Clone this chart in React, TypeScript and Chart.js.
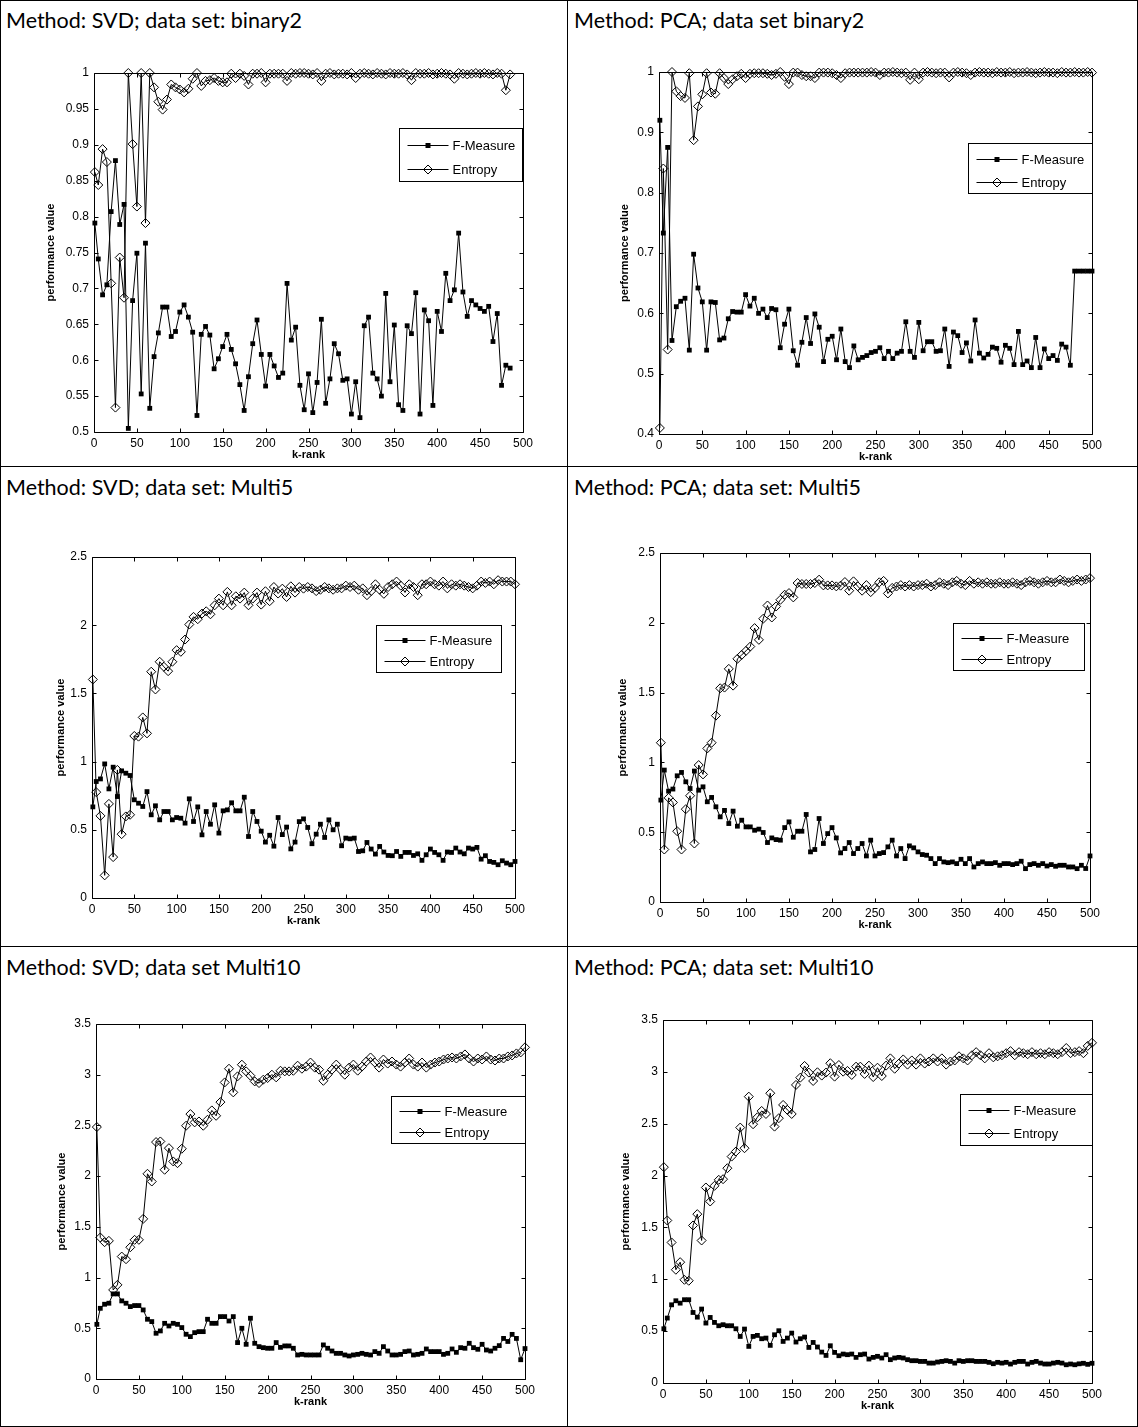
import React, { useEffect, useRef } from "react";
import { Chart, registerables } from "chart.js";

Chart.register(...registerables);

// k-rank values at which every run was evaluated
const kRank = [
  1, 5, 10, 15, 20, 25, 30, 35, 40, 45, 50, 55, 60, 65, 70, 75, 80, 85, 90, 95,
  100, 105, 110, 115, 120, 125, 130, 135, 140, 145, 150, 155, 160, 165, 170, 175, 180, 185, 190, 195,
  200, 205, 210, 215, 220, 225, 230, 235, 240, 245, 250, 255, 260, 265, 270, 275, 280, 285, 290, 295,
  300, 305, 310, 315, 320, 325, 330, 335, 340, 345, 350, 355, 360, 365, 370, 375, 380, 385, 390, 395,
  400, 405, 410, 415, 420, 425, 430, 435, 440, 445, 450, 455, 460, 465, 470, 475, 480, 485, 490, 495,
  500,
];

const xTicks = [0, 50, 100, 150, 200, 250, 300, 350, 400, 450, 500];

// ---- SVD, binary2 (runs stop at k = 485) ----
const svdBinary2FMeasure = [
  0.791, 0.741, 0.691, 0.705, 0.807, 0.878, 0.789, 0.817, 0.505, 0.683,
  0.749, 0.553, 0.763, 0.533, 0.605, 0.638, 0.674, 0.674, 0.633, 0.64,
  0.667, 0.677, 0.66, 0.639, 0.523, 0.636, 0.647, 0.635, 0.588, 0.602,
  0.619, 0.636, 0.615, 0.595, 0.566, 0.53, 0.577, 0.623, 0.656, 0.608,
  0.564, 0.608, 0.592, 0.576, 0.582, 0.707, 0.628, 0.646, 0.565, 0.531,
  0.581, 0.527, 0.569, 0.657, 0.54, 0.574, 0.623, 0.609, 0.572, 0.574,
  0.525, 0.57, 0.52, 0.648, 0.66, 0.582, 0.574, 0.55, 0.693, 0.57,
  0.649, 0.538, 0.53, 0.648, 0.637, 0.694, 0.525, 0.67, 0.655, 0.537,
  0.668, 0.64, 0.721, 0.683, 0.698, 0.777, 0.695, 0.661, 0.683, 0.677,
  0.672, 0.668, 0.675, 0.626, 0.665, 0.565, 0.593, 0.589,
];
const svdBinary2Entropy = [
  0.862, 0.844, 0.894, 0.876, 0.707, 0.534, 0.743, 0.687, 1.0, 0.901,
  0.814, 1.0, 0.791, 1.0, 0.98, 0.96, 0.949, 0.963, 0.984, 0.98,
  0.977, 0.973, 0.978, 0.992, 1.0, 0.982, 0.989, 0.99, 0.993, 0.989,
  0.987, 0.987, 0.999, 0.993, 0.999, 0.996, 0.984, 0.999, 0.999, 1.0,
  0.987, 0.999, 0.999, 0.999, 0.999, 0.989, 1.0, 0.999, 1.0, 1.0,
  0.999, 0.998, 1.0, 0.989, 0.999, 1.0, 0.998, 0.999, 0.999, 0.998,
  1.0, 0.993, 0.999, 1.0, 0.999, 0.998, 1.0, 0.999, 0.998, 1.0,
  0.999, 0.999, 1.0, 0.998, 0.99, 1.0, 0.999, 0.999, 1.0, 0.998,
  0.999, 1.0, 0.999, 0.998, 0.992, 1.0, 0.999, 0.998, 0.999, 1.0,
  0.999, 1.0, 0.999, 0.998, 1.0, 0.999, 0.976, 0.998,
];

// ---- PCA, binary2 ----
const pcaBinary2FMeasure = [
  0.92, 0.733, 0.875, 0.555, 0.611, 0.62, 0.625, 0.539, 0.698, 0.642,
  0.619, 0.539, 0.619, 0.618, 0.556, 0.559, 0.591, 0.603, 0.602, 0.602,
  0.631, 0.612, 0.625, 0.6, 0.607, 0.593, 0.608, 0.606, 0.543, 0.582,
  0.607, 0.538, 0.514, 0.552, 0.593, 0.55, 0.599, 0.577, 0.52, 0.557,
  0.562, 0.523, 0.574, 0.52, 0.51, 0.546, 0.523, 0.527, 0.53, 0.535,
  0.537, 0.543, 0.525, 0.537, 0.525, 0.534, 0.537, 0.586, 0.537, 0.527,
  0.585, 0.538, 0.553, 0.553, 0.537, 0.538, 0.574, 0.512, 0.569, 0.563,
  0.535, 0.551, 0.521, 0.589, 0.534, 0.526, 0.532, 0.544, 0.542, 0.519,
  0.547, 0.542, 0.515, 0.57, 0.515, 0.521, 0.51, 0.56, 0.51, 0.541,
  0.525, 0.53, 0.522, 0.549, 0.544, 0.514, 0.67, 0.67, 0.67, 0.67,
  0.67,
];
const pcaBinary2Entropy = [
  0.41, 0.84, 0.54, 1.0, 0.968, 0.96, 0.957, 0.998, 0.887, 0.943,
  0.963, 0.998, 0.966, 0.964, 0.998, 0.99, 0.98, 0.988, 0.993, 0.997,
  0.99, 0.997, 0.998, 0.998, 0.998, 0.997, 0.995, 0.997, 1.0, 0.992,
  0.98, 0.999, 0.999, 0.995, 0.993, 0.993, 0.99, 0.999, 0.999, 0.999,
  0.998, 0.995, 0.99, 0.998, 0.999, 0.999, 0.999, 0.999, 0.999, 1.0,
  0.999, 0.995, 0.999, 0.999, 1.0, 0.999, 0.998, 0.999, 0.987, 0.999,
  0.988, 0.999, 1.0, 0.999, 0.998, 0.999, 0.999, 0.991, 0.999, 1.0,
  0.999, 0.998, 0.995, 0.999, 1.0, 0.999, 0.999, 0.998, 1.0, 0.999,
  0.999, 1.0, 0.998, 0.999, 0.999, 1.0, 0.999, 0.998, 0.999, 1.0,
  0.999, 0.999, 0.998, 1.0, 0.999, 0.999, 1.0, 0.999, 0.999, 1.0,
  0.999,
];

// ---- SVD, Multi5 ----
const svdMulti5FMeasure = [
  0.668, 0.854, 0.873, 0.983, 0.8, 0.959, 0.744, 0.932, 0.915, 0.898,
  0.72, 0.695, 0.671, 0.78, 0.61, 0.676, 0.573, 0.634, 0.634, 0.573,
  0.59, 0.585, 0.549, 0.727, 0.561, 0.668, 0.463, 0.634, 0.541, 0.683,
  0.476, 0.639, 0.646, 0.698, 0.639, 0.639, 0.739, 0.451, 0.634, 0.561,
  0.49, 0.41, 0.46, 0.38, 0.59, 0.465, 0.52, 0.36, 0.41, 0.56,
  0.58, 0.517, 0.398, 0.468, 0.541, 0.444, 0.573, 0.5, 0.541, 0.383,
  0.439, 0.434, 0.439, 0.341, 0.346, 0.407, 0.359, 0.322, 0.378, 0.337,
  0.312, 0.31, 0.341, 0.305, 0.334, 0.334, 0.312, 0.324, 0.276, 0.317,
  0.359, 0.334, 0.317, 0.276, 0.337, 0.334, 0.366, 0.337, 0.324, 0.366,
  0.359, 0.371, 0.285, 0.31, 0.268, 0.261, 0.244, 0.273, 0.256, 0.244,
  0.268,
];
const svdMulti5Entropy = [
  1.602, 0.776, 0.602, 0.166, 0.69, 0.3, 0.939, 0.468, 0.598, 0.61,
  1.188, 1.183, 1.324, 1.207, 1.659, 1.529, 1.732, 1.695, 1.663, 1.732,
  1.817, 1.805, 1.895, 2.005, 2.061, 2.044, 2.085, 2.102, 2.08, 2.146,
  2.195, 2.146, 2.244, 2.146, 2.212, 2.195, 2.239, 2.146, 2.195, 2.239,
  2.151, 2.249, 2.176, 2.28, 2.232, 2.268, 2.207, 2.285, 2.239, 2.28,
  2.268, 2.28, 2.27, 2.25, 2.26, 2.28, 2.27, 2.26, 2.27, 2.27,
  2.29, 2.28, 2.29, 2.26, 2.27, 2.22, 2.25, 2.3, 2.26, 2.23,
  2.28, 2.3, 2.32, 2.29, 2.24, 2.3, 2.28, 2.22, 2.3, 2.3,
  2.32, 2.3, 2.29, 2.32, 2.27, 2.3, 2.29, 2.3, 2.29, 2.28,
  2.27, 2.29, 2.32, 2.31, 2.32, 2.3, 2.33, 2.32, 2.32, 2.32,
  2.3,
];

// ---- PCA, Multi5 ----
const pcaMulti5FMeasure = [
  0.73, 0.945, 0.794, 0.809, 0.904, 0.928, 0.861, 0.813, 0.938, 0.801,
  0.825, 0.718, 0.749, 0.682, 0.61, 0.656, 0.562, 0.651, 0.543, 0.586,
  0.538, 0.538, 0.514, 0.522, 0.498, 0.426, 0.459, 0.447, 0.443, 0.533,
  0.574, 0.464, 0.507, 0.507, 0.627, 0.359, 0.376, 0.598, 0.419, 0.49,
  0.533, 0.459, 0.352, 0.383, 0.426, 0.347, 0.383, 0.419, 0.33, 0.443,
  0.33, 0.347, 0.354, 0.395, 0.443, 0.33, 0.383, 0.311, 0.402, 0.388,
  0.359, 0.34, 0.335, 0.311, 0.275, 0.311, 0.287, 0.282, 0.287, 0.275,
  0.306, 0.275, 0.311, 0.251, 0.275, 0.287, 0.275, 0.275, 0.282, 0.263,
  0.275, 0.275, 0.268, 0.275, 0.292, 0.239, 0.268, 0.275, 0.263, 0.275,
  0.258, 0.268, 0.256, 0.263, 0.263, 0.251, 0.251, 0.239, 0.263, 0.24,
  0.33,
];
const pcaMulti5Entropy = [
  1.141, 0.376, 0.746, 0.713, 0.507, 0.376, 0.665, 0.761, 0.419, 0.981,
  0.914, 1.1, 1.141, 1.335, 1.531, 1.536, 1.67, 1.55, 1.742, 1.77,
  1.799, 1.83, 1.962, 1.878, 2.029, 2.124, 2.038, 2.117, 2.165, 2.201,
  2.213, 2.182, 2.285, 2.278, 2.278, 2.278, 2.285, 2.309, 2.268, 2.268,
  2.268, 2.261, 2.266, 2.292, 2.23, 2.297, 2.261, 2.23, 2.27, 2.22,
  2.25, 2.29, 2.3, 2.21, 2.25, 2.26, 2.27, 2.26, 2.27, 2.26,
  2.27, 2.27, 2.28, 2.26, 2.27, 2.29, 2.28, 2.27, 2.29, 2.3,
  2.28, 2.27, 2.3, 2.28, 2.29, 2.28, 2.29, 2.28, 2.28, 2.29,
  2.28, 2.28, 2.29, 2.28, 2.27, 2.29, 2.3, 2.29, 2.28, 2.29,
  2.3, 2.29, 2.29, 2.31, 2.3, 2.29, 2.3, 2.31, 2.3, 2.31,
  2.32,
];

// ---- SVD, Multi10 ----
const svdMulti10FMeasure = [
  0.539, 0.697, 0.737, 0.747, 0.839, 0.839, 0.77, 0.747, 0.714, 0.724,
  0.724, 0.681, 0.589, 0.566, 0.451, 0.474, 0.549, 0.523, 0.549, 0.539,
  0.507, 0.441, 0.418, 0.457, 0.467, 0.467, 0.589, 0.549, 0.549, 0.615,
  0.615, 0.572, 0.615, 0.359, 0.5, 0.342, 0.599, 0.352, 0.319, 0.309,
  0.303, 0.303, 0.359, 0.312, 0.326, 0.326, 0.303, 0.237, 0.243, 0.237,
  0.237, 0.237, 0.237, 0.336, 0.303, 0.276, 0.253, 0.253, 0.237, 0.227,
  0.237, 0.243, 0.253, 0.243, 0.237, 0.27, 0.253, 0.319, 0.276, 0.237,
  0.237, 0.243, 0.27, 0.276, 0.237, 0.243, 0.253, 0.296, 0.27, 0.27,
  0.27, 0.243, 0.253, 0.296, 0.263, 0.309, 0.303, 0.352, 0.309, 0.293,
  0.342, 0.286, 0.276, 0.303, 0.329, 0.4, 0.37, 0.44, 0.4, 0.19,
  0.3,
];
const svdMulti10Entropy = [
  2.484, 1.395, 1.349, 1.362, 0.878, 0.928, 1.207, 1.181, 1.299, 1.372,
  1.372, 1.579, 2.023, 1.947, 2.336, 2.342, 2.063, 2.276, 2.145, 2.128,
  2.27, 2.497, 2.612, 2.53, 2.539, 2.497, 2.556, 2.648, 2.595, 2.73,
  2.924, 3.059, 2.826, 2.984, 3.099, 3.033, 2.99, 2.934, 2.918, 2.951,
  2.967, 3.0, 2.974, 3.039, 3.033, 3.033, 3.039, 3.089, 3.059, 3.08,
  3.12, 3.07, 3.05, 2.94, 3.0, 3.05, 3.1, 3.05, 3.0, 3.07,
  3.1, 3.04, 3.08, 3.13, 3.17, 3.12, 3.07, 3.15, 3.11, 3.13,
  3.1, 3.08, 3.12, 3.16, 3.1, 3.08, 3.12, 3.07, 3.1, 3.12,
  3.13, 3.15, 3.16, 3.17, 3.16, 3.18, 3.2, 3.16, 3.13, 3.16,
  3.15, 3.18, 3.15, 3.14, 3.16, 3.16, 3.18, 3.19, 3.21, 3.22,
  3.27,
];

// ---- PCA, Multi10 ----
const pcaMulti10FMeasure = [
  0.523, 0.626, 0.754, 0.793, 0.77, 0.803, 0.803, 0.68, 0.635, 0.713,
  0.578, 0.632, 0.584, 0.552, 0.562, 0.552, 0.552, 0.523, 0.449, 0.52,
  0.353, 0.449, 0.459, 0.427, 0.433, 0.363, 0.465, 0.504, 0.401, 0.433,
  0.481, 0.395, 0.427, 0.443, 0.343, 0.391, 0.347, 0.298, 0.266, 0.359,
  0.295, 0.263, 0.279, 0.273, 0.279, 0.247, 0.273, 0.279, 0.231, 0.247,
  0.257, 0.241, 0.273, 0.225, 0.241, 0.247, 0.241, 0.225, 0.215, 0.215,
  0.208, 0.208, 0.192, 0.192, 0.202, 0.208, 0.215, 0.208, 0.192, 0.215,
  0.208, 0.215, 0.215, 0.208, 0.208, 0.208, 0.199, 0.186, 0.199, 0.192,
  0.199, 0.183, 0.199, 0.208, 0.208, 0.183, 0.199, 0.208, 0.192, 0.183,
  0.183, 0.192, 0.199, 0.192, 0.176, 0.183, 0.176, 0.185, 0.19, 0.18,
  0.19,
];
const pcaMulti10Entropy = [
  2.081, 1.567, 1.355, 1.092, 1.165, 0.995, 0.986, 1.519, 1.628, 1.374,
  1.885, 1.75, 1.901, 1.959, 1.965, 2.071, 2.183, 2.232, 2.463, 2.264,
  2.761, 2.495, 2.562, 2.623, 2.594, 2.794, 2.472, 2.553, 2.681, 2.633,
  2.594, 2.874, 2.944, 3.057, 2.993, 2.912, 2.996, 2.964, 2.993, 3.083,
  2.954, 3.066, 3.002, 3.009, 2.97, 3.05, 3.05, 2.98, 3.06, 2.95,
  3.04, 2.96, 3.06, 3.13, 3.03, 3.08, 3.12, 3.07, 3.11, 3.07,
  3.13, 3.08, 3.1, 3.13, 3.1, 3.13, 3.07, 3.1, 3.11, 3.15,
  3.13, 3.11, 3.16, 3.19, 3.16, 3.13, 3.18, 3.14, 3.15, 3.16,
  3.18, 3.2, 3.16, 3.19, 3.18, 3.17, 3.19, 3.17, 3.18, 3.17,
  3.19, 3.18, 3.17, 3.19, 3.23, 3.18, 3.19, 3.2, 3.18, 3.25,
  3.28,
];

type Panel = {
  id: string;
  title: string;
  cellLeft: number;
  cellTop: number;
  fMeasure: number[];
  entropy: number[];
  yMin: number;
  yMax: number;
  yStep: number;
  // plot box on the page
  plot: { left: number; right: number; top: number; bottom: number };
  yLabelOffset: number; // distance from axis to the centre of "performance value"
  legend: { right: number; top: number; width: number; height: number };
};

const panels: Panel[] = [
  {
    id: "svd-binary2", title: "Method: SVD; data set: binary2", cellLeft: 0, cellTop: 0,
    fMeasure: svdBinary2FMeasure, entropy: svdBinary2Entropy,
    yMin: 0.5, yMax: 1, yStep: 0.05,
    plot: { left: 94, right: 523, top: 73, bottom: 432 },
    yLabelOffset: 43,
    legend: { right: 1, top: 55, width: 123, height: 53 },
  },
  {
    id: "pca-binary2", title: "Method: PCA; data set binary2", cellLeft: 568, cellTop: 0,
    fMeasure: pcaBinary2FMeasure, entropy: pcaBinary2Entropy,
    yMin: 0.4, yMax: 1, yStep: 0.1,
    plot: { left: 659, right: 1092, top: 72, bottom: 434 },
    yLabelOffset: 34,
    legend: { right: 0, top: 71, width: 124, height: 50 },
  },
  {
    id: "svd-multi5", title: "Method: SVD; data set: Multi5", cellLeft: 0, cellTop: 467,
    fMeasure: svdMulti5FMeasure, entropy: svdMulti5Entropy,
    yMin: 0, yMax: 2.5, yStep: 0.5,
    plot: { left: 92, right: 515, top: 557, bottom: 898 },
    yLabelOffset: 31,
    legend: { right: 14, top: 68, width: 125, height: 47 },
  },
  {
    id: "pca-multi5", title: "Method: PCA; data set: Multi5", cellLeft: 568, cellTop: 467,
    fMeasure: pcaMulti5FMeasure, entropy: pcaMulti5Entropy,
    yMin: 0, yMax: 2.5, yStep: 0.5,
    plot: { left: 660, right: 1090, top: 553, bottom: 902 },
    yLabelOffset: 37,
    legend: { right: 6, top: 70, width: 131, height: 47 },
  },
  {
    id: "svd-multi10", title: "Method: SVD; data set Multi10", cellLeft: 0, cellTop: 947,
    fMeasure: svdMulti10FMeasure, entropy: svdMulti10Entropy,
    yMin: 0, yMax: 3.5, yStep: 0.5,
    plot: { left: 96, right: 525, top: 1024, bottom: 1379 },
    yLabelOffset: 34,
    legend: { right: 0, top: 72, width: 134, height: 47 },
  },
  {
    id: "pca-multi10", title: "Method: PCA; data set: Multi10", cellLeft: 568, cellTop: 947,
    fMeasure: pcaMulti10FMeasure, entropy: pcaMulti10Entropy,
    yMin: 0, yMax: 3.5, yStep: 0.5,
    plot: { left: 663, right: 1092, top: 1020, bottom: 1383 },
    yLabelOffset: 37,
    legend: { right: 0, top: 74, width: 132, height: 51 },
  },
];

const AXIS_FONT = "'Liberation Sans', Arial, sans-serif";
const Y_AXIS_BOX = 70;
const X_AXIS_BOX = 40;
const PAD_TOP = 20;
const PAD_RIGHT = 25;

const toPoints = (values: number[]) => values.map((v, i) => ({ x: kRank[i], y: v }));

function drawSquare(ctx: CanvasRenderingContext2D, x: number, y: number, r: number) {
  ctx.fillStyle = "#000";
  ctx.fillRect(x - r, y - r, 2 * r, 2 * r);
}

function drawDiamond(ctx: CanvasRenderingContext2D, x: number, y: number, r: number) {
  ctx.beginPath();
  ctx.moveTo(x, y - r);
  ctx.lineTo(x + r, y);
  ctx.lineTo(x, y + r);
  ctx.lineTo(x - r, y);
  ctx.closePath();
  ctx.strokeStyle = "#000";
  ctx.lineWidth = 1;
  ctx.stroke();
}

// Axes box with inward ticks on all four sides plus the boxed legend.
function makeAxesPlugin(panel: Panel) {
  return {
    id: "axesBox",
    afterDatasetsDraw(chart: any) {
      const { ctx, chartArea: a, scales } = chart;
      const xs = scales.x;
      const ys = scales.y;
      const L = Math.round(a.left) + 0.5;
      const R = Math.round(a.right) + 0.5;
      const T = Math.round(a.top) + 0.5;
      const B = Math.round(a.bottom) + 0.5;
      const tick = 4;
      ctx.save();
      ctx.strokeStyle = "#000";
      ctx.lineWidth = 1;
      ctx.beginPath();
      ctx.rect(L, T, R - L, B - T);
      for (const t of xs.ticks) {
        const px = Math.round(xs.getPixelForValue(t.value)) + 0.5;
        ctx.moveTo(px, B);
        ctx.lineTo(px, B - tick);
        ctx.moveTo(px, T);
        ctx.lineTo(px, T + tick);
      }
      for (const t of ys.ticks) {
        const py = Math.round(ys.getPixelForValue(t.value)) + 0.5;
        ctx.moveTo(L, py);
        ctx.lineTo(L + tick, py);
        ctx.moveTo(R, py);
        ctx.lineTo(R - tick, py);
      }
      ctx.stroke();

      // legend
      const lg = panel.legend;
      const bx = Math.round(a.right - lg.right - lg.width) + 0.5;
      const by = Math.round(a.top + lg.top) + 0.5;
      ctx.fillStyle = "#fff";
      ctx.fillRect(bx, by, lg.width, lg.height);
      ctx.strokeRect(bx, by, lg.width, lg.height);
      const rows = [
        { label: "F-Measure", marker: "square", y: by + lg.height * 0.31 },
        { label: "Entropy", marker: "diamond", y: by + lg.height * 0.76 },
      ];
      const x1 = bx + 8;
      const x2 = bx + 49;
      const mx = (x1 + x2) / 2;
      ctx.font = `13px ${AXIS_FONT}`;
      ctx.textBaseline = "middle";
      ctx.textAlign = "left";
      for (const r of rows) {
        const yy = Math.round(r.y) + 0.5;
        ctx.beginPath();
        ctx.moveTo(x1, yy);
        ctx.lineTo(x2, yy);
        ctx.strokeStyle = "#000";
        ctx.stroke();
        if (r.marker === "square") drawSquare(ctx, mx, yy, 2.5);
        else drawDiamond(ctx, mx, yy, 4.5);
        ctx.fillStyle = "#000";
        ctx.fillText(r.label, x2 + 4, yy + 1);
      }
      ctx.restore();
    },
  };
}

function PanelChart({ panel }: { panel: Panel }) {
  const ref = useRef<HTMLCanvasElement | null>(null);
  const { plot } = panel;
  const width = plot.right - plot.left + Y_AXIS_BOX + PAD_RIGHT;
  const height = plot.bottom - plot.top + PAD_TOP + X_AXIS_BOX;

  useEffect(() => {
    if (!ref.current) return;
    const labelFont = { family: AXIS_FONT, size: 11, weight: "bold" as const, lineHeight: 1.2 };
    const chart = new Chart(ref.current, {
      type: "line",
      data: {
        datasets: [
          {
            label: "F-Measure",
            data: toPoints(panel.fMeasure),
            borderColor: "#000",
            borderWidth: 1,
            pointStyle: "rect",
            pointRadius: 3.4,
            pointBackgroundColor: "#000",
            pointBorderColor: "#000",
            pointBorderWidth: 0,
            tension: 0,
            clip: false,
          },
          {
            label: "Entropy",
            data: toPoints(panel.entropy),
            borderColor: "#000",
            borderWidth: 1,
            pointStyle: "rectRot",
            pointRadius: 4.5,
            pointBackgroundColor: "rgba(0,0,0,0)",
            pointBorderColor: "#000",
            pointBorderWidth: 1,
            tension: 0,
            clip: false,
          },
        ],
      },
      options: {
        animation: false,
        responsive: false,
        maintainAspectRatio: false,
        events: [],
        layout: { padding: { top: PAD_TOP, right: PAD_RIGHT, left: 0, bottom: 0 } },
        plugins: { legend: { display: false }, tooltip: { enabled: false } },
        scales: {
          x: {
            type: "linear",
            min: 0,
            max: 500,
            afterBuildTicks: (s: any) => {
              s.ticks = xTicks.map((v) => ({ value: v }));
            },
            ticks: {
              color: "#000",
              font: { family: AXIS_FONT, size: 12 },
              padding: 4,
              maxRotation: 0,
              autoSkip: false,
              callback: (v: any) => String(v),
            },
            grid: { display: false, drawTicks: false },
            border: { display: false },
            title: {
              display: true,
              text: "k-rank",
              color: "#000",
              font: labelFont,
              padding: { top: 0, bottom: X_AXIS_BOX - 23 - 6.6 },
            },
            afterFit: (s: any) => {
              s.height = X_AXIS_BOX;
            },
          },
          y: {
            type: "linear",
            min: panel.yMin,
            max: panel.yMax,
            ticks: {
              stepSize: panel.yStep,
              color: "#000",
              font: { family: AXIS_FONT, size: 12 },
              padding: 5,
              callback: (v: any) => String(Math.round(Number(v) * 100) / 100),
            },
            grid: { display: false, drawTicks: false },
            border: { display: false },
            title: {
              display: true,
              text: "performance value",
              color: "#000",
              font: labelFont,
              padding: { top: Y_AXIS_BOX - panel.yLabelOffset - 6.6, bottom: 0 },
            },
            afterFit: (s: any) => {
              s.width = Y_AXIS_BOX;
            },
          },
        },
      },
      plugins: [makeAxesPlugin(panel)],
    });
    return () => chart.destroy();
  }, [panel]);

  return (
    <canvas
      ref={ref}
      width={width}
      height={height}
      style={{
        position: "absolute",
        left: plot.left - Y_AXIS_BOX,
        top: plot.top - PAD_TOP,
        width,
        height,
      }}
    />
  );
}

const rule = (style: React.CSSProperties) => (
  <div style={{ position: "absolute", background: "#000", ...style }} />
);

export default function App() {
  useEffect(() => {
    document.body.style.margin = "0";
  }, []);

  return (
    <div style={{ position: "relative", width: 1138, height: 1427, background: "#fff", overflow: "hidden" }}>
      {panels.map((p) => (
        <div
          key={p.id + "-title"}
          style={{
            position: "absolute",
            left: p.cellLeft + 6,
            top: p.cellTop + 7,
            fontFamily: "Lato, 'Open Sans', sans-serif",
            fontSize: 21.5,
            lineHeight: "26px",
            color: "#000",
            whiteSpace: "nowrap",
          }}
        >
          {p.title}
        </div>
      ))}
      {panels.map((p) => (
        <PanelChart key={p.id} panel={p} />
      ))}
      {rule({ left: 0, top: 0, width: 1138, height: 1 })}
      {rule({ left: 0, top: 1426, width: 1138, height: 1 })}
      {rule({ left: 0, top: 0, width: 1, height: 1427 })}
      {rule({ left: 1137, top: 0, width: 1, height: 1427 })}
      {rule({ left: 567, top: 0, width: 1, height: 1427 })}
      {rule({ left: 0, top: 466, width: 1138, height: 1 })}
      {rule({ left: 0, top: 946, width: 1138, height: 1 })}
    </div>
  );
}
